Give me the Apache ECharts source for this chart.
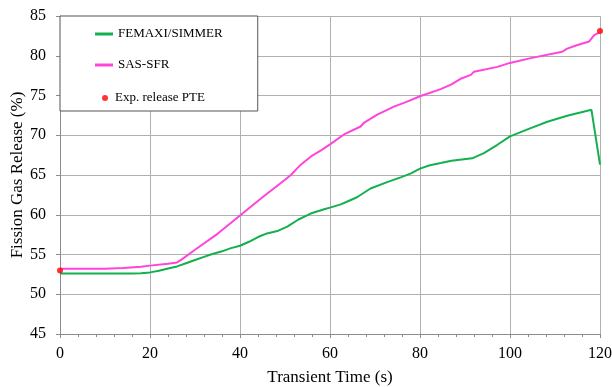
<!DOCTYPE html>
<html><head><meta charset="utf-8">
<script src="https://cdn.jsdelivr.net/npm/echarts@6/dist/echarts.min.js"></script>
<style>html,body{margin:0;padding:0;background:#fff}#c{width:612px;height:387px}</style>
</head><body><div id="c"></div>
<script>
const femaxiT = [0,5,10,16,18,20,22,24,26,28,30,32,33.5,36,38,40,42,44,46,48.3,50.5,53,55.7,58.7,60,62.4,64,66,69,72.7,75.7,78,80,82,84.6,87,91.6,94.2,97.2,100,104.6,108.3,112.7,118.1,120];
const femaxiV = [52.6,52.6,52.6,52.6,52.65,52.75,52.95,53.25,53.5,53.9,54.3,54.7,55.0,55.4,55.8,56.1,56.6,57.2,57.65,57.95,58.5,59.4,60.15,60.7,60.9,61.3,61.7,62.2,63.3,64.1,64.7,65.2,65.8,66.2,66.5,66.8,67.1,67.76,68.8,69.85,70.9,71.7,72.45,73.2,66.3];
const sasT = [0,10,14,18,20,24,26,27,30,35,40,45,50,51.3,53.5,55.7,58,60,63.1,66.8,67.6,70.5,74.2,77,80,84.6,87,89,91.3,92,97.2,100,104.6,111.6,112.7,115,117.6,118.7,119.8];
const sasV = [53.2,53.2,53.3,53.45,53.6,53.85,54.0,54.35,55.6,57.6,59.9,62.2,64.4,65.0,66.3,67.3,68.1,68.85,70.1,71.1,71.6,72.6,73.6,74.2,74.9,75.8,76.4,77.1,77.6,78.0,78.6,79.1,79.7,80.5,80.9,81.35,81.8,82.6,82.9];
const expT = [0,120];
const expV = [53.0,83.1];
const seriesNames = ['FEMAXI/SIMMER','SAS-SFR','Exp. release PTE'];

const zip = (a,b)=>a.map((x,i)=>[x,b[i]]);
const font = 'Liberation Serif, Times New Roman, serif';
const gridColor = '#b0b0b0';
const axisColor = '#8c8c8c';
const chart = echarts.init(document.getElementById('c'));
chart.setOption({
  animation:false,
  grid:{left:60,right:12,top:16,bottom:53,containLabel:false,outerBoundsMode:'none'},
  legend:[{
    data:[seriesNames[0],seriesNames[1]],
    orient:'vertical', left:60, top:16,
    padding:[11,35,39,35],
    icon:'rect',
    itemGap:17, itemWidth:18, itemHeight:3,
    backgroundColor:'#fff', borderColor:'#555', borderWidth:1,
    textStyle:{fontFamily:font,fontSize:13,lineHeight:14,color:'#000'},
    z:5
  },{
    data:[seriesNames[2]],
    orient:'vertical', left:102, top:91,
    padding:0, itemWidth:6, itemHeight:6,
    textStyle:{fontFamily:font,fontSize:13,lineHeight:14,color:'#000',padding:[0,0,0,2]},
    z:6
  }],
  xAxis:{
    type:'value', min:0, max:120, interval:20,
    name:'Transient Time (s)', nameLocation:'middle', nameGap:35, nameMoveOverlap:false,
    nameTextStyle:{fontFamily:font,fontSize:17,color:'#000'},
    axisLine:{lineStyle:{color:axisColor}},
    axisTick:{show:true,length:4,lineStyle:{color:axisColor}},
    minorTick:{show:true,splitNumber:5,length:3,lineStyle:{color:axisColor}},
    axisLabel:{fontFamily:font,fontSize:16,color:'#000',margin:12},
    splitLine:{show:true,lineStyle:{color:gridColor,width:1}}
  },
  yAxis:{
    type:'value', min:45, max:85, interval:5,
    name:'Fission Gas Release (%)', nameLocation:'middle', nameGap:34, nameRotate:90, nameMoveOverlap:false,
    nameTextStyle:{fontFamily:font,fontSize:17,color:'#000'},
    axisLine:{show:true,lineStyle:{color:axisColor}},
    axisTick:{show:true,length:4,lineStyle:{color:axisColor}},
    axisLabel:{fontFamily:font,fontSize:16,color:'#000',margin:14},
    splitLine:{show:true,lineStyle:{color:gridColor,width:1}}
  },
  series:[
    {name:seriesNames[0],type:'line',data:zip(femaxiT,femaxiV),symbol:'none',
     lineStyle:{color:'#14b050',width:2},itemStyle:{color:'#14b050'},z:3},
    {name:seriesNames[1],type:'line',data:zip(sasT,sasV),symbol:'none',
     lineStyle:{color:'#ff44dc',width:2},itemStyle:{color:'#ff44dc'},z:3},
    {name:seriesNames[2],type:'scatter',data:zip(expT,expV),symbol:'circle',symbolSize:6,
     itemStyle:{color:'#ff0000'},z:4,clip:false}
  ]
});
</script></body></html>
